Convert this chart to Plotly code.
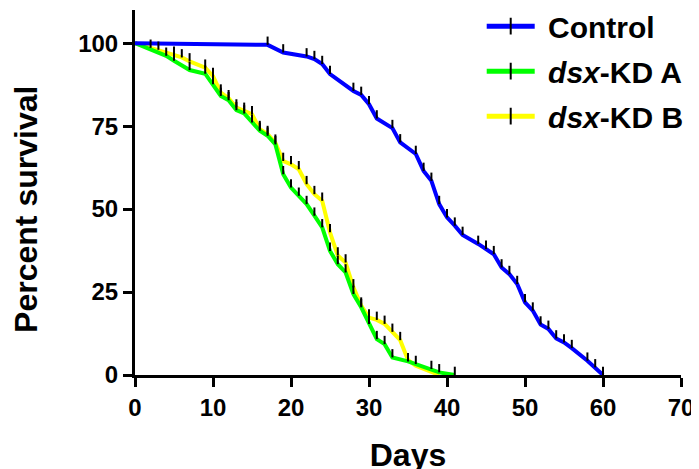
"""生存曲線（Kaplan-Meier）チャートの再現"""

import plotly.graph_objects as go

# Control（日数・生存率・打ち切り日）
control_days = [0, 17, 19, 22, 23, 24, 25, 28, 29, 30, 31, 33, 34, 36, 37, 38, 39, 40,
                41, 42, 44, 45, 46, 47, 48, 49, 50, 51, 52, 53, 54, 55, 56, 58, 59, 60]
control_survival = [100, 99.5, 97.2, 96.0, 95.2, 93.7, 90.7, 85.6, 84.4, 81.6, 77.3, 74.4,
                    70.1, 66.6, 61.5, 58.5, 51.5, 47.5, 45.0, 42.2, 39.5, 38.0, 36.4, 32.4,
                    30.4, 27.4, 21.9, 19.4, 15.2, 13.9, 11.0, 9.8, 8.1, 4.3, 2.3, 0]
control_censored = [17, 19, 22, 23, 24, 25, 28, 29, 30, 31, 33, 34, 36, 37, 38, 39, 40, 41,
                    42, 44, 45, 46, 47, 48, 49, 50, 51, 52, 53, 54, 55, 56, 58, 59, 60]

# dsx-KD A
kd_a_days = [0, 2, 4, 5, 7, 9, 10, 11, 12, 13, 14, 15, 16, 17, 18, 19, 20, 21, 22, 23,
             24, 25, 26, 27, 28, 29, 30, 31, 32, 33, 35, 36, 38, 39, 41]
kd_a_survival = [100, 98.0, 96.2, 94.7, 91.9, 90.8, 87.6, 84.1, 82.8, 79.8, 78.8, 76.1,
                 73.6, 72.1, 69.5, 60.5, 56.5, 54.0, 51.5, 48.0, 44.5, 37.4, 33.4, 30.9,
                 24.4, 20.4, 15.4, 10.8, 9.3, 5.3, 4.1, 3.3, 1.8, 0.8, 0]
kd_a_censored = [4, 5, 7, 9, 10, 11, 12, 13, 14, 15, 16, 17, 18, 19, 20, 21, 22, 23, 24,
                 25, 26, 27, 28, 29, 30, 31, 32, 33, 35, 36, 38, 39, 41]

# dsx-KD B
kd_b_days = [0, 2, 3, 5, 6, 7, 9, 10, 11, 12, 13, 14, 15, 16, 17, 18, 19, 20, 21, 22,
             23, 24, 25, 26, 27, 28, 29, 30, 31, 32, 33, 34, 35, 36, 39]
kd_b_survival = [100, 98.6, 98.0, 96.5, 95.7, 94.5, 92.6, 90.1, 85.1, 83.4, 80.6, 79.6,
                 78.6, 74.1, 72.6, 70.0, 64.5, 63.5, 62.0, 57.5, 54.5, 52.5, 43.0, 36.0,
                 33.9, 26.4, 20.9, 17.3, 16.6, 15.4, 13.0, 10.5, 4.5, 2.8, 0]
kd_b_censored = [2, 3, 5, 6, 7, 9, 10, 11, 12, 13, 14, 15, 16, 17, 18, 19, 20, 21, 22,
                 23, 24, 25, 26, 27, 28, 29, 30, 31, 32, 33, 34]

y_ticks = [0, 25, 50, 75, 100]

FONT = 'Liberation Sans, Arial, sans-serif'


def create_survival_chart() -> go.Figure:
    """
    生存曲線を作成

    Returns:
        Plotlyフィギュア
    """
    # 描画順: 黄 → 緑 → 青（凡例は legendrank で並べ替え）
    series = [
        ("\u00a0<i>dsx</i>-KD B", kd_b_days, kd_b_survival, kd_b_censored, '#FFFF00', 3),
        ("\u00a0<i>dsx</i>-KD A", kd_a_days, kd_a_survival, kd_a_censored, '#00FF00', 2),
        ("\u00a0Control", control_days, control_survival, control_censored, '#0000FF', 1),
    ]

    fig = go.Figure()

    # 生存曲線
    for name, days, survival, _, color, rank in series:
        fig.add_trace(go.Scatter(
            x=days,
            y=survival,
            mode='lines+markers',
            name=name,
            legendgroup=name,
            legendrank=rank,
            line=dict(color=color, width=4),
            marker=dict(symbol='line-ns', size=0.01,
                        line=dict(color='black', width=2)),
            hoverinfo='skip',
        ))

    # 打ち切りマーク（上向きの縦線）
    for name, days, survival, censored, color, rank in series:
        lookup = dict(zip(days, survival))
        fig.add_trace(go.Scatter(
            x=censored,
            y=[lookup[d] for d in censored],
            mode='markers',
            marker=dict(size=0.01, color='rgba(0,0,0,0)'),
            error_y=dict(type='constant', value=2.5, symmetric=False, valueminus=0,
                         width=0, thickness=2, color='black'),
            showlegend=False,
            hoverinfo='skip',
        ))

    axis_style = dict(
        showline=True,
        linewidth=3,
        linecolor='black',
        ticks='outside',
        ticklen=9,
        tickwidth=3,
        tickcolor='black',
        showgrid=False,
        zeroline=False,
        tickfont=dict(family=FONT, size=24, color='black', weight='bold'),
    )

    # レイアウト設定
    fig.update_layout(
        width=699,
        height=469,
        margin=dict(l=127, r=26, t=2, b=102, autoexpand=False),
        paper_bgcolor='white',
        plot_bgcolor='white',
        font=dict(family=FONT, size=24, color='black', weight='bold'),
        xaxis=dict(
            range=[0, 70],
            dtick=10,
            title=dict(text='Days', standoff=24,
                       font=dict(family=FONT, size=32, color='black', weight='bold')),
            **axis_style,
        ),
        yaxis=dict(
            range=[0, 110],
            tickvals=y_ticks,
            **axis_style,
        ),
        legend=dict(
            x=0.635,
            y=1.027,
            xanchor='left',
            yanchor='top',
            bgcolor='rgba(0,0,0,0)',
            itemsizing='constant',
            itemwidth=48,
            tracegroupgap=3,
            font=dict(family=FONT, size=30, color='black', weight='bold'),
        ),
        showlegend=True,
    )

    # 縦軸タイトル（0〜100 の範囲の中央に配置）
    fig.add_annotation(
        text='Percent survival',
        xref='paper',
        yref='y',
        x=-0.2,
        y=50,
        xanchor='center',
        yanchor='middle',
        textangle=-90,
        showarrow=False,
        font=dict(family=FONT, size=32, color='black', weight='bold'),
    )

    return fig


fig = create_survival_chart()
fig.write_html("out.html")
